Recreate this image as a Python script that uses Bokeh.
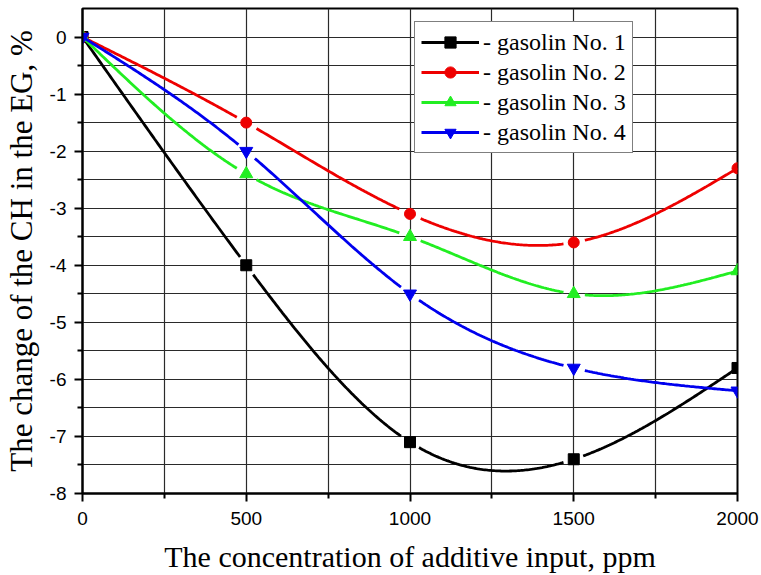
import numpy as np
from bokeh.plotting import figure
from bokeh.models import FixedTicker, Range1d, Legend, LegendItem, PrintfTickFormatter, Grid
from bokeh.embed import file_html
from bokeh.resources import INLINE

x_vals = [0, 500, 1000, 1500, 2000]
gas1 = [0.0, -4.0, -7.1, -7.4, -5.8]
gas2 = [0.0, -1.5, -3.1, -3.6, -2.3]
gas3 = [0.0, -2.4, -3.5, -4.5, -4.1]
gas4 = [0.0, -2.0, -4.5, -5.8, -6.2]
labels = ["- gasolin No. 1", "- gasolin No. 2", "- gasolin No. 3", "- gasolin No. 4"]
colors = ["#000000", "#ee0000", "#22ee22", "#0000ee"]
markers = ["square", "circle", "triangle", "inverted_triangle"]
x_major = [0, 500, 1000, 1500, 2000]
x_minor = [250, 750, 1250, 1750]
y_major = [-8, -7, -6, -5, -4, -3, -2, -1, 0]
y_minor = [-7.5, -6.5, -5.5, -4.5, -3.5, -2.5, -1.5, -0.5]

X0, X1, Y0, Y1 = 0, 2000, -8, 0.5
FRAME_W, FRAME_H = 657, 487


def natural_spline(xs, ys, n=400):
    xs = np.asarray(xs, float)
    ys = np.asarray(ys, float)
    k = len(xs)
    h = np.diff(xs)
    A = np.zeros((k, k))
    b = np.zeros(k)
    A[0, 0] = 1
    A[-1, -1] = 1
    for i in range(1, k - 1):
        A[i, i - 1] = h[i - 1]
        A[i, i] = 2 * (h[i - 1] + h[i])
        A[i, i + 1] = h[i]
        b[i] = 6 * ((ys[i + 1] - ys[i]) / h[i] - (ys[i] - ys[i - 1]) / h[i - 1])
    M = np.linalg.solve(A, b)
    xx = np.linspace(xs[0], xs[-1], n)
    yy = np.empty_like(xx)
    for j, xv in enumerate(xx):
        i = min(np.searchsorted(xs, xv, side="right") - 1, k - 2)
        t1 = xs[i + 1] - xv
        t0 = xv - xs[i]
        yy[j] = (M[i] * t1 ** 3 / (6 * h[i]) + M[i + 1] * t0 ** 3 / (6 * h[i])
                 + (ys[i] / h[i] - M[i] * h[i] / 6) * t1
                 + (ys[i + 1] / h[i] - M[i + 1] * h[i] / 6) * t0)
    return xx, yy


def gap_near_markers(xx, yy, xs, ys, gap_px=10):
    # break the drawn curve close to the inner markers (as in the original style)
    sx = FRAME_W / (X1 - X0)
    sy = FRAME_H / (Y1 - Y0)
    keep = np.ones(len(xx), bool)
    for mx, my in list(zip(xs, ys))[1:-1]:
        d = np.hypot((xx - mx) * sx, (yy - my) * sy)
        keep &= d >= gap_px
    yy2 = yy.copy()
    yy2[~keep] = np.nan
    return xx, yy2


p = figure(width=761, height=575, output_backend="svg", toolbar_location=None,
           x_range=Range1d(X0, X1), y_range=Range1d(Y0, Y1),
           min_border_left=80, min_border_right=24, min_border_top=8, min_border_bottom=80)
p.background_fill_color = "white"
p.border_fill_color = "white"
p.outline_line_color = "black"
p.outline_line_width = 2

xt = FixedTicker(ticks=x_major, minor_ticks=x_minor)
yt = FixedTicker(ticks=y_major, minor_ticks=y_minor)
p.xaxis.ticker = xt
p.yaxis.ticker = yt
p.xaxis.formatter = PrintfTickFormatter(format="%d")
p.yaxis.formatter = PrintfTickFormatter(format="%d")
p.xgrid.visible = False
p.ygrid.visible = False
for dim, tk in ((0, xt), (1, yt)):
    g = Grid(dimension=dim, ticker=tk,
             grid_line_color="#2a2a2a", grid_line_width=1.2, grid_line_alpha=1,
             minor_grid_line_color="#2a2a2a", minor_grid_line_width=1.2,
             minor_grid_line_alpha=1)
    p.add_layout(g, "center")

for ax in (p.xaxis, p.yaxis):
    ax.axis_line_width = 2
    ax.axis_line_color = "black"
    ax.major_tick_in = 0
    ax.major_tick_out = 8
    ax.minor_tick_in = 0
    ax.minor_tick_out = 5
    ax.major_tick_line_width = 2
    ax.minor_tick_line_width = 2
    ax.major_label_text_font = "Liberation Sans"
    ax.major_label_text_font_size = "19px"
    ax.major_label_text_color = "black"
    ax.axis_label_text_font = "Liberation Serif"
    ax.axis_label_text_font_style = "normal"
    ax.axis_label_text_color = "black"

p.xaxis.axis_label_text_font_size = "30px"
p.yaxis.axis_label_text_font_size = "31px"
p.xaxis.axis_label = "The concentration of additive input, ppm"
p.yaxis.axis_label = "The change of the CH in the EG, %"
p.xaxis.major_label_standoff = 10
p.xaxis.axis_label_standoff = 12
p.yaxis.major_label_standoff = 8
p.yaxis.axis_label_standoff = 8

items = []
for ys, lab, col, mk in zip([gas1, gas2, gas3, gas4], labels, colors, markers):
    xx, yy = natural_spline(x_vals, ys)
    xx, yy = gap_near_markers(xx, yy, x_vals, ys)
    r1 = p.line(xx, yy, line_color=col, line_width=2.8)
    # white patch used only in the legend key to open a gap around the marker
    rgap = p.scatter(x=[], y=[], marker="square", size=19, fill_color="white", line_color=None)
    size = 11 if mk in ("square", "circle") else 13
    r2 = p.scatter(x_vals, ys, marker=mk, size=size, fill_color=col, line_color=col)
    items.append(LegendItem(label=lab, renderers=[r1, rgap, r2]))

legend = Legend(items=items, location=(332, 340))
legend.label_text_font = "Liberation Serif"
legend.label_text_font_size = "24px"
legend.label_text_color = "black"
legend.glyph_width = 58
legend.glyph_height = 28
legend.label_height = 28
legend.spacing = 2
legend.padding = 6
legend.margin = 0
legend.label_standoff = 4
legend.border_line_color = "black"
legend.border_line_width = 1.5
legend.background_fill_alpha = 1
p.add_layout(legend, "center")

open("out.html", "w").write(file_html(p, INLINE))
